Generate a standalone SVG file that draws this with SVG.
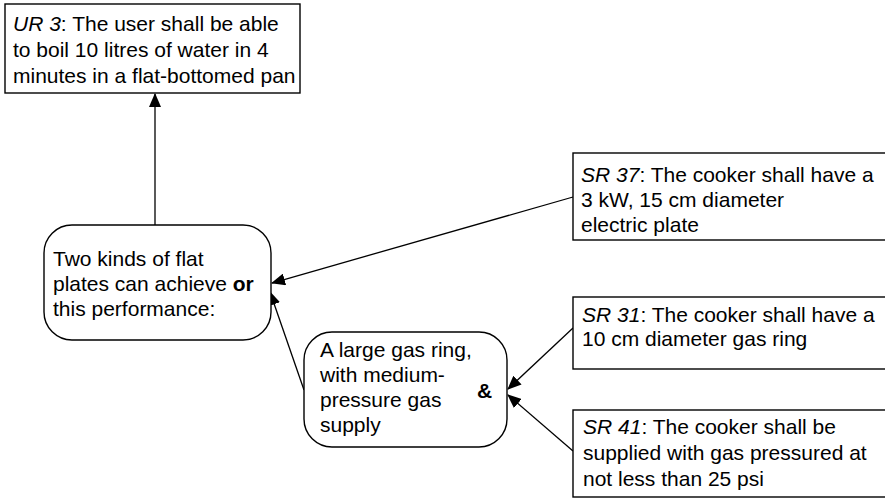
<svg xmlns="http://www.w3.org/2000/svg" width="885" height="498" viewBox="0 0 885 498">
  <style>
    .box { fill: #fff; stroke: #000; stroke-width: 1.4; }
    .lbl { font-family: "Liberation Sans", Arial, sans-serif; font-size: 21px; fill: #000; }
    .it { font-style: italic; }
    .b { font-weight: bold; }
    .link { stroke: #000; stroke-width: 1.3; fill: none; marker-end: url(#head); }
  </style>
  <defs>
    <marker id="head" markerUnits="userSpaceOnUse" markerWidth="14" markerHeight="12" refX="13" refY="6" orient="auto">
      <path d="M0,0 L14,6 L0,12 Z" fill="#000"/>
    </marker>
  </defs>

  <g id="connectors">
    <line class="link" x1="155" y1="225" x2="155" y2="94"/>
    <line class="link" x1="573" y1="197" x2="272" y2="283"/>
    <line class="link" x1="304" y1="390" x2="270" y2="292"/>
    <line class="link" x1="573" y1="328" x2="508" y2="389"/>
    <line class="link" x1="573" y1="451" x2="508" y2="395"/>
  </g>

  <g id="ur3">
    <rect class="box" x="5" y="4" width="295" height="89"/>
    <text class="lbl" x="13" y="31"><tspan class="it">UR 3</tspan>: The user shall be able</text>
    <text class="lbl" x="13" y="57">to boil 10 litres of water in 4</text>
    <text class="lbl" x="13" y="83">minutes in a flat-bottomed pan</text>
  </g>

  <g id="flat-plates">
    <rect class="box" x="44" y="225" width="227" height="115" rx="28" ry="28"/>
    <text class="lbl" x="53" y="266">Two kinds of flat</text>
    <text class="lbl" x="53" y="291">plates can achieve <tspan class="b">or</tspan></text>
    <text class="lbl" x="53" y="316">this performance:</text>
  </g>

  <g id="gas-ring">
    <rect class="box" x="304" y="332" width="203" height="115" rx="28" ry="28"/>
    <text class="lbl" x="320" y="357">A large gas ring,</text>
    <text class="lbl" x="320" y="382">with medium-</text>
    <text class="lbl" x="320" y="407">pressure gas</text>
    <text class="lbl" x="320" y="432">supply</text>
    <text class="lbl b" x="477" y="398">&amp;</text>
  </g>

  <g id="sr37">
    <rect class="box" x="573" y="153" width="320" height="87"/>
    <text class="lbl" x="581" y="182"><tspan class="it">SR 37</tspan>: The cooker shall have a</text>
    <text class="lbl" x="581" y="207">3 kW, 15 cm diameter</text>
    <text class="lbl" x="581" y="232">electric plate</text>
  </g>

  <g id="sr31">
    <rect class="box" x="573" y="297" width="320" height="72"/>
    <text class="lbl" x="582" y="322"><tspan class="it">SR 31</tspan>: The cooker shall have a</text>
    <text class="lbl" x="582" y="346">10 cm diameter gas ring</text>
  </g>

  <g id="sr41">
    <rect class="box" x="573" y="410" width="320" height="87"/>
    <text class="lbl" x="583" y="434"><tspan class="it">SR 41</tspan>: The cooker shall be</text>
    <text class="lbl" x="583" y="460">supplied with gas pressured at</text>
    <text class="lbl" x="583" y="486">not less than 25 psi</text>
  </g>
</svg>
